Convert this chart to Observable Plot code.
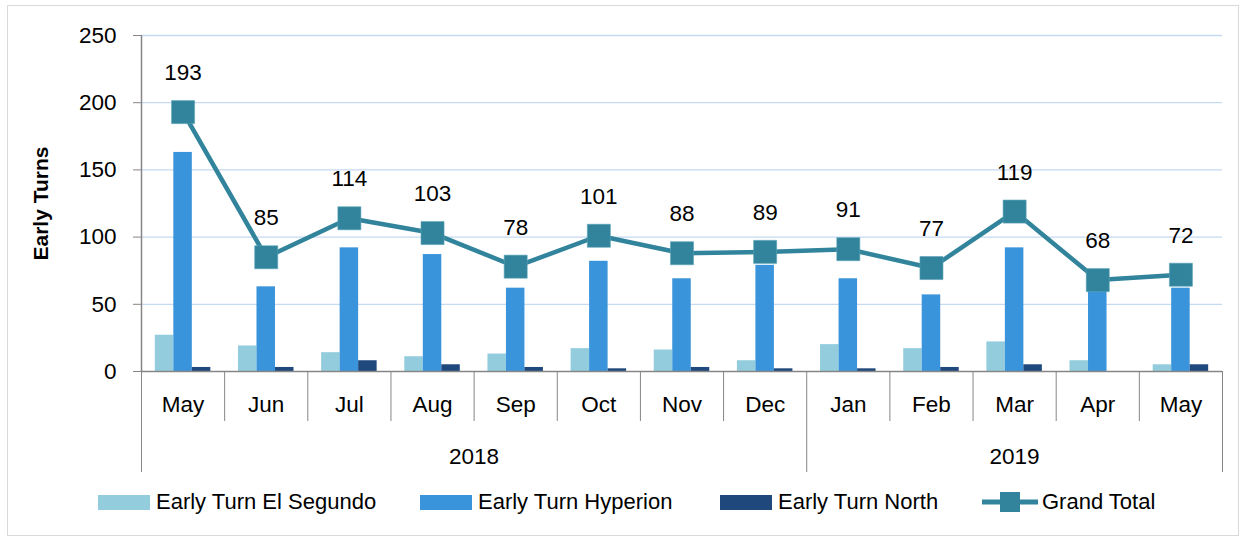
<!DOCTYPE html>
<html>
<head>
<meta charset="utf-8">
<script src="https://cdn.jsdelivr.net/npm/d3@7"></script>
<script src="https://cdn.jsdelivr.net/npm/@observablehq/plot@0.6"></script>
<style>
  html, body { margin: 0; padding: 0; background: #fff; }
  #wrap { position: relative; width: 1244px; height: 539px; overflow: hidden; font-family: "Liberation Sans", Arial, sans-serif; }
  #frame { position: absolute; left: 7px; top: 5px; width: 1232px; height: 531px; border: 1px solid #D9D9D9; box-sizing: border-box; }
  #chart { position: absolute; left: 0; top: 0; }
  #legend { position: absolute; left: 0; top: 489px; width: 1244px; height: 26px; font-size: 22px; color: #000; }
  .item { position: absolute; top: 0; display: flex; align-items: center; height: 26px; white-space: nowrap; }
  .sw { display: inline-block; width: 52px; height: 15px; margin-right: 6px; }
</style>
</head>
<body>
<div id="wrap">
  <div id="frame"></div>
  <div id="chart"></div>
  <div id="legend"></div>
</div>
<script>
// ---- data ----
const months = ["May","Jun","Jul","Aug","Sep","Oct","Nov","Dec","Jan","Feb","Mar","Apr","May"];
const years = ["2018","2019"];
const monthsPerYear = [8, 5];
const seriesNames = ["Early Turn El Segundo","Early Turn Hyperion","Early Turn North"];
const elSegundo = [27,19,14,11,13,17,16,8,20,17,22,8,5];
const hyperion  = [163,63,92,87,62,82,69,79,69,57,92,60,62];
const north     = [3,3,8,5,3,2,3,2,2,3,5,0,5];
const grandTotal = [193,85,114,103,78,101,88,89,91,77,119,68,72];
const yTicks = [0,50,100,150,200,250];

const colors = ["#93CDDD","#3A94DB","#1F497D"];
const totalColor = "#31849B";
const axisColor = "#868686";
const font = "'Liberation Sans', Arial, sans-serif";

// long table for bars
const seriesValues = [elSegundo, hyperion, north];
const bars = [];
seriesValues.forEach((vals, k) => vals.forEach((v, i) => bars.push({i, k, series: seriesNames[k], value: v})));
const totals = grandTotal.map((v, i) => ({i, value: v}));

const bw = 0.2225; // bar width as fraction of a month band
const n = months.length;

// boundaries
const yearStarts = [0];
monthsPerYear.forEach(m => yearStarts.push(yearStarts[yearStarts.length-1] + m));
const yearCenters = years.map((y, j) => (yearStarts[j] + yearStarts[j+1]) / 2);
const innerBounds = d3.range(1, n).filter(b => !yearStarts.includes(b));

const chart = Plot.plot({
  width: 1244,
  height: 480,
  marginLeft: 141,
  marginRight: 22,
  marginTop: 35,
  marginBottom: 109,
  style: {fontFamily: font, fontSize: "22px", background: "transparent", overflow: "visible"},
  x: {type: "linear", domain: [0, n], axis: null},
  y: {domain: [0, 250], axis: null},
  color: {domain: seriesNames, range: colors},
  marks: [
    Plot.gridY(yTicks.filter(t => t > 0), {stroke: "#C5D9F1", strokeOpacity: 1, strokeWidth: 1.3}),
    Plot.rectY(bars, {
      x1: d => d.i + 0.5 + (d.k - 1.5) * bw,
      x2: d => d.i + 0.5 + (d.k - 0.5) * bw,
      y1: 0, y2: "value",
      fill: "series"
    }),
    // axes lines
    Plot.ruleY([0], {stroke: axisColor, strokeWidth: 1.5}),
    Plot.ruleX([0], {stroke: axisColor, strokeWidth: 1.5}),
    Plot.axisY({ticks: yTicks, tickSize: 8, tickPadding: 17, stroke: axisColor, fill: "#000", fontSize: 22.5, label: null}),
    // x hierarchy separators
    Plot.axisX({ticks: innerBounds, tickSize: 50, tickFormat: () => "", stroke: axisColor, label: null}),
    Plot.axisX({ticks: yearStarts, tickSize: 101, tickFormat: () => "", stroke: axisColor, label: null}),
    // month and year labels
    Plot.axisX({ticks: d3.range(n).map(i => i + 0.5), tickSize: 0, tickPadding: 25, tickFormat: (d) => months[Math.floor(d)], fill: "#000", fontSize: 22.5, label: null}),
    Plot.axisX({ticks: yearCenters, tickSize: 0, tickPadding: 77, tickFormat: (d, j) => years[j], fill: "#000", fontSize: 22.5, label: null}),
    // total line
    Plot.line(totals, {x: d => d.i + 0.5, y: "value", stroke: totalColor, strokeWidth: 4.5}),
    Plot.dot(totals, {x: d => d.i + 0.5, y: "value", symbol: "square", r: 13, fill: totalColor, stroke: "#5BA5B8", strokeWidth: 0.6}),
    Plot.text(totals, {x: d => d.i + 0.5, y: "value", text: d => String(d.value), dy: -39, fontSize: 22.5, fill: "#000"}),
    // y label
    Plot.text(["Early Turns"], {frameAnchor: "left", textAnchor: "middle", rotate: -90, dx: -100, fontWeight: "bold", fontSize: 21, fill: "#000"})
  ]
});
document.getElementById("chart").appendChild(chart);

// legend
const legend = document.getElementById("legend");
const lefts = [98, 420, 720, 982];
seriesNames.forEach((s, k) => {
  const it = document.createElement("div");
  it.className = "item";
  it.style.left = lefts[k] + "px";
  it.innerHTML = `<span class="sw" style="background:${colors[k]}"></span><span>${s}</span>`;
  legend.appendChild(it);
});
const it = document.createElement("div");
it.className = "item";
it.style.left = lefts[3] + "px";
it.innerHTML = `<svg width="56" height="26" style="margin-right:4px"><line x1="0" x2="56" y1="13" y2="13" stroke="${totalColor}" stroke-width="5"/><rect x="18" y="3" width="20" height="20" fill="${totalColor}"/></svg><span>Grand Total</span>`;
legend.appendChild(it);
</script>
</body>
</html>
